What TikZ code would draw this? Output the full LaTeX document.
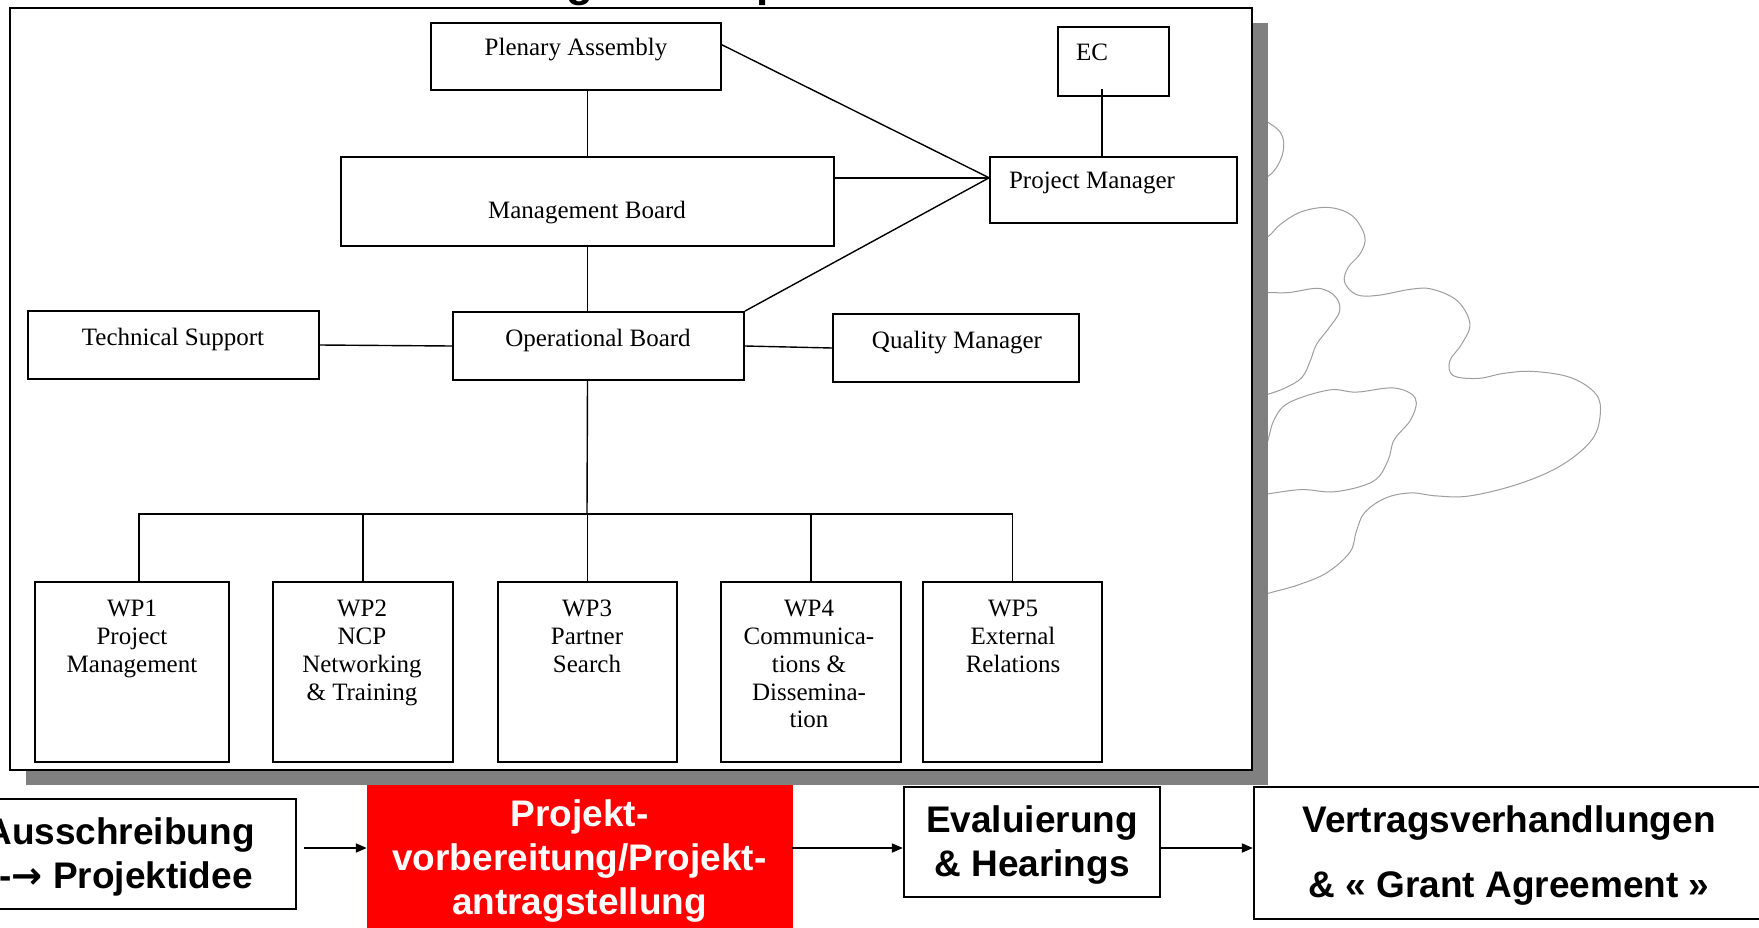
\documentclass[tikz,border=0pt]{standalone}
\usepackage{fontspec}
\setmainfont{Liberation Serif}
\newfontfamily\sansfam{Liberation Sans}
\newfontfamily\arrowfam{DejaVu Sans}
\usetikzlibrary{arrows.meta,calc}
\begin{document}
\begin{tikzpicture}[x=1pt,y=-1pt,
  box/.style={draw=black, line width=1.8pt, fill=white, inner sep=0pt},
  lbl/.style={font=\fontsize{25}{27.8}\selectfont, inner sep=0pt, align=center},
  con/.style={line width=1.4pt},
  pbox/.style={draw=black, line width=2.2pt, fill=white, inner sep=0pt},
  ptxt/.style={font=\sansfam\bfseries\fontsize{37}{44}\selectfont, inner sep=0pt, align=center},
  arr/.style={line width=1.8pt, -{Triangle[length=11pt,width=9pt]}},
  cloudline/.style={draw=black!38, line width=1pt}
]
\useasboundingbox (0,0) rectangle (1759,927);
\fill[white] (0,0) rectangle (1759,927);

% cloud behind the frame
\draw[cloudline] plot[smooth, tension=0.6] coordinates {(1250,112) (1268.1,122.4) (1280.7,132.8) (1283.7,147.3) (1278.6,163.9) (1268.1,176.3) (1250,183)};
\draw[cloudline] plot[smooth, tension=0.6] coordinates {(1250,246) (1268.1,236.5) (1280.7,224.1) (1301.8,211.6) (1329.1,207.5) (1352.2,215.8) (1364.8,236.5) (1360.6,253.1) (1348.0,267.6) (1344.6,282.2) (1356.4,294.6) (1377.4,295.4) (1411.1,289.2) (1432.1,289.2) (1457.3,300.8) (1469.9,323.7) (1461.5,344.4) (1449.7,361.0) (1453.1,375.5) (1478.3,378.4) (1503.5,373.4) (1533.0,371.4) (1570.8,377.6) (1596.0,394.2) (1600.2,414.9) (1591.8,439.8) (1562.4,464.7) (1520.3,483.4) (1469.9,495.9) (1436.3,495.9) (1411.1,492.9) (1385.8,497.9) (1364.8,512.4) (1356.4,531.1) (1350.1,551.9) (1327.0,572.6) (1297.6,585.1) (1268.1,593.4) (1250,600)};
\draw[cloudline] plot[smooth, tension=0.6] coordinates {(1250,292.5) (1268.1,292.5) (1289.2,292.5) (1318.6,288.4) (1335.4,296.7) (1339.6,311.2) (1329.1,327.8) (1316.5,344.4) (1310.2,361.0) (1301.8,377.6) (1285.0,388.0) (1268.1,394.2) (1250,399)};
\draw[cloudline] plot[smooth, tension=0.6] coordinates {(1262,458) (1268.1,439.8) (1274.4,419.1) (1289.2,402.5) (1329.1,390.0) (1356.4,392.1) (1394.2,388.0) (1415.3,398.3) (1411.1,419.1) (1394.2,439.8) (1387.9,460.6) (1373.2,481.3) (1335.4,491.7) (1301.8,489.6) (1268.1,493.8) (1250,496)};

% title fragments (cut by the top edge)
\node[font=\sansfam\bfseries\fontsize{44}{44}\selectfont, anchor=base, inner sep=0pt] (tfraga) at (580,-4) {g};
\node[font=\sansfam\bfseries\fontsize{44}{44}\selectfont, anchor=base, inner sep=0pt] (tfragb) at (770,-4) {p};

% frame with shadow
\fill[black!50] (26,23) rectangle (1268,785);
\draw[line width=2.4pt, fill=white] (10,8) rectangle (1252,770);

% organisation boxes
\node[box, minimum width=290pt, minimum height=67pt] (pa) at (576,56.5) {};
\node[box, minimum width=111pt, minimum height=69pt] (ec) at (1113.5,61.5) {};
\node[box, minimum width=493pt, minimum height=89pt] (mb) at (587.5,201.5) {};
\node[box, minimum width=247pt, minimum height=66pt] (pm) at (1113.5,190) {};
\node[box, minimum width=291pt, minimum height=68pt] (ts) at (173.5,345) {};
\node[box, minimum width=291pt, minimum height=68pt] (ob) at (598.5,346) {};
\node[box, minimum width=246pt, minimum height=68pt] (qm) at (956,348) {};
\node[box, minimum width=194pt, minimum height=180pt] (wp1) at (132,672) {};
\node[box, minimum width=180pt, minimum height=180pt] (wp2) at (363,672) {};
\node[box, minimum width=179pt, minimum height=180pt] (wp3) at (587.5,672) {};
\node[box, minimum width=180pt, minimum height=180pt] (wp4) at (811,672) {};
\node[box, minimum width=179pt, minimum height=180pt] (wp5) at (1012.5,672) {};

% labels
\node[lbl, anchor=base] (pat) at (576,55) {Plenary Assembly};
\node[lbl, anchor=base] (ect) at (1092,60) {EC};
\node[lbl, anchor=base] (mbt) at (587,218) {Management Board};
\node[lbl, anchor=base] (pmt) at (1092,188) {Project Manager};
\node[lbl, anchor=base] (tst) at (173,345) {Technical Support};
\node[lbl, anchor=base] (obt) at (598,346) {Operational Board};
\node[lbl, anchor=base] (qmt) at (957,348) {Quality Manager};
\node[lbl, anchor=north] (wp1t) at (132,600) {WP1\\Project\\Management};
\node[lbl, anchor=north] (wp2t) at (362,600) {WP2\\NCP\\Networking\\\& Training};
\node[lbl, anchor=north] (wp3t) at (587,600) {WP3\\Partner\\Search};
\node[lbl, anchor=north] (wp4t) at (809,600) {WP4\\Communica-\\tions \&\\Dissemina-\\tion};
\node[lbl, anchor=north] (wp5t) at (1013,600) {WP5\\External\\Relations};

% connectors
\coordinate (pmj) at ($(pm.north west)!0.32!(pm.south west)$);
\coordinate (paj) at ($(pa.north east)!0.33!(pa.south east)$);
\coordinate (ecj) at (1102,89);
\coordinate (bus) at (587,514);
\draw[con] (mb.north) -- (mb.north |- pa.south);
\draw[con] (mb.south) -- (mb.south |- ob.north);
\draw[con] (paj) -- (pmj);
\draw[con] (mb.east |- pmj) -- (pmj);
\draw[con] (ob.north east) -- (pmj);
\draw[con] (ecj) -- (ecj |- pm.north);
\draw[con] (ts.east) -- (ob.west);
\draw[con] (ob.east) -- (qm.west);
\draw[con] (mb.south |- ob.south) -- (bus);
\draw[con] ([xshift=7pt]wp1.north) |- (wp5.north |- bus) -- (wp5.north);
\draw[con] (wp2.north) -- (wp2.north |- bus);
\draw[con] (wp3.north) -- (wp3.north |- bus);
\draw[con] (wp4.north) -- (wp4.north |- bus);

% process row
\node[pbox, minimum width=356pt, minimum height=110pt] (aus) at (118,854) {};
\node[draw=red, fill=red, inner sep=0pt, minimum width=425pt, minimum height=155pt] (red) at (579.5,862.5) {};
\node[pbox, minimum width=256pt, minimum height=110pt] (ev) at (1032,842) {};
\node[pbox, minimum width=510pt, minimum height=132pt] (vt) at (1509,853) {};

\node[ptxt, anchor=north] (aust) at (120,817.5) {Ausschreibung\\-{}-{\arrowfam\bfseries →} Projektidee};
\node[ptxt, anchor=north, text=white] (redt) at (579.5,799.5) {Projekt-\\vorbereitung/Projekt-\\antragstellung};
\node[ptxt, anchor=north] (evt) at (1032,805.5) {Evaluierung\\\& Hearings};
\node[ptxt, anchor=north, font=\sansfam\bfseries\fontsize{37}{65}\selectfont] (vtt) at (1509,805.5) {Vertragsverhandlungen\\\& « Grant Agreement »};

\coordinate (arow) at (0,848);
\draw[arr] ([xshift=7pt]aus.east |- arow) -- (red.west |- arow);
\draw[arr] (red.east |- arow) -- (ev.west |- arow);
\draw[arr] (ev.east |- arow) -- (vt.west |- arow);
\end{tikzpicture}
\end{document}
